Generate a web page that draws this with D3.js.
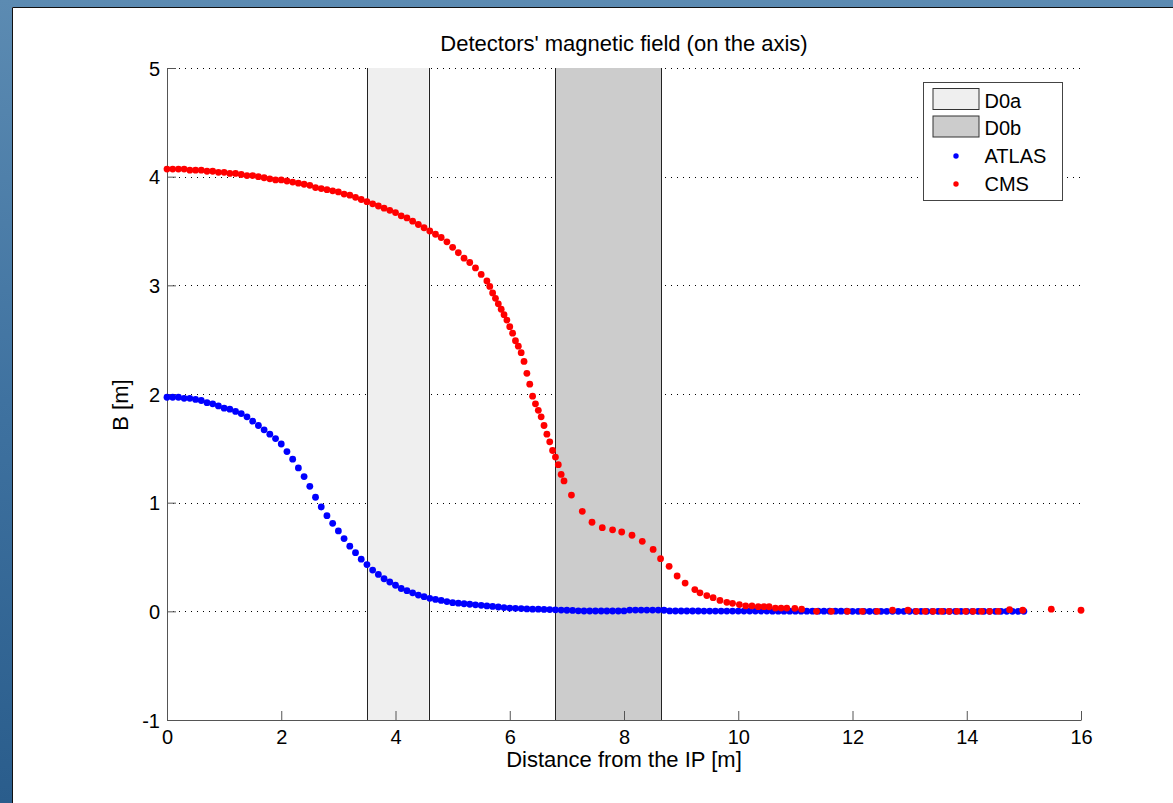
<!DOCTYPE html>
<html lang="en">
<head>
<meta charset="UTF-8">
<title>Detectors' magnetic field</title>
<script src="https://cdn.jsdelivr.net/npm/d3@7"></script>
<style>
    body { margin: 0; background: linear-gradient(180deg, #5c8bb2 0%, #3f72a0 50%, #2a5d8c 100%); }
    svg { display: block; }
    text { font-family: "Liberation Sans", Arial, Helvetica, sans-serif; fill: #000; }
</style>
</head>
<body>
<svg width="1173" height="803"></svg>
<script>
// field on the axis, [distance from IP (m), B]
var atlas = [
    [0.0,1.97],[0.1,1.97],[0.2,1.97],[0.3,1.96],[0.4,1.96],[0.5,1.95],[0.6,1.94],[0.7,1.92],[0.8,1.91],[0.9,1.89],
    [1.0,1.87],[1.1,1.86],[1.2,1.84],[1.3,1.82],[1.4,1.79],[1.5,1.75],[1.6,1.71],[1.7,1.67],[1.8,1.63],[1.9,1.59],
    [2.0,1.54],[2.1,1.47],[2.2,1.40],[2.3,1.32],[2.4,1.24],[2.5,1.15],[2.6,1.05],[2.7,0.96],[2.8,0.88],[2.9,0.81],
    [3.0,0.74],[3.1,0.67],[3.2,0.60],[3.3,0.54],[3.4,0.48],[3.5,0.43],[3.6,0.38],[3.7,0.34],[3.8,0.30],[3.9,0.27],
    [4.0,0.24],[4.1,0.21],[4.2,0.19],[4.3,0.17],[4.4,0.15],[4.5,0.135],[4.6,0.12],[4.7,0.11],[4.8,0.10],[4.9,0.09],
    [5.0,0.08],[5.1,0.075],[5.2,0.07],[5.3,0.065],[5.4,0.06],[5.5,0.055],[5.6,0.05],[5.7,0.045],[5.8,0.04],[5.9,0.035],
    [6.0,0.03],[6.1,0.028],[6.2,0.025],[6.3,0.022],[6.4,0.02],[6.5,0.02],[6.6,0.018],[6.7,0.016],[6.8,0.014],[6.9,0.012],
    [7.0,0.01],[7.1,0.008],[7.2,0.005],[7.3,0.003],[7.4,0.003],[7.5,0.003],[7.6,0.003],[7.7,0.003],[7.8,0.003],[7.9,0.003],
    [8.0,0.004],[8.1,0.012],[8.2,0.012],[8.3,0.012],[8.4,0.012],[8.5,0.012],[8.6,0.012],[8.7,0.01],[8.8,0.004],[8.9,0.003],
    [9.0,0.003],[9.1,0.003],[9.2,0.003],[9.3,0.003],[9.4,0.002],[9.5,0.002],[9.6,0.002],[9.7,0.002],[9.8,0.002],[9.9,0.002],
    [10.0,0.002],[10.1,0.002],[10.2,0.002],[10.3,0.002],[10.4,0.002],[10.5,0.002],[10.6,0.001],[10.7,0.001],[10.8,0.001],[10.9,0.001],
    [11.0,0.001],[11.1,0.001],[11.2,0.001],[11.3,0.001],[11.4,0.001],[11.5,0.001],[11.6,0.001],[11.7,0.001],[11.8,0.001],[11.9,0.001],
    [12.0,0],[12.1,0],[12.2,0],[12.3,0],[12.4,0],[12.5,0],[12.6,0],[12.7,0],[12.8,0],[12.9,0],
    [13.0,0],[13.1,0],[13.2,0],[13.3,0],[13.4,0],[13.5,0],[13.6,0],[13.7,0],[13.8,0],[13.9,0],
    [14.0,0],[14.1,0],[14.2,0],[14.3,0],[14.4,0],[14.5,0],[14.6,0],[14.7,0],[14.8,0],[14.9,0],[15.0,0]
];

var cms = [
    [0.0,4.07],[0.1,4.07],[0.2,4.07],[0.3,4.07],[0.4,4.06],[0.5,4.06],[0.6,4.06],[0.7,4.05],[0.8,4.05],[0.9,4.04],
    [1.0,4.04],[1.1,4.03],[1.2,4.03],[1.3,4.02],[1.4,4.01],[1.5,4.01],[1.6,4.00],[1.7,3.99],[1.8,3.98],[1.9,3.97],
    [2.0,3.97],[2.1,3.96],[2.2,3.95],[2.3,3.94],[2.4,3.93],[2.5,3.92],[2.6,3.90],[2.7,3.89],[2.8,3.88],[2.9,3.87],
    [3.0,3.86],[3.1,3.84],[3.2,3.83],[3.3,3.81],[3.4,3.79],[3.5,3.77],[3.6,3.75],[3.7,3.73],[3.8,3.71],[3.9,3.69],
    [4.0,3.67],[4.1,3.64],[4.2,3.62],[4.3,3.59],[4.4,3.56],[4.5,3.53],[4.6,3.50],[4.7,3.47],[4.8,3.44],[4.9,3.40],
    [5.0,3.35],[5.1,3.30],[5.2,3.25],[5.3,3.21],[5.4,3.16],[5.5,3.10],[5.6,3.04],
    [5.65,2.99],[5.70,2.93],[5.75,2.88],[5.80,2.83],[5.85,2.78],[5.90,2.73],[5.95,2.68],[6.00,2.62],[6.05,2.56],
    [6.10,2.49],[6.15,2.44],[6.20,2.38],[6.25,2.30],[6.30,2.19],[6.35,2.09],[6.40,1.98],[6.45,1.91],[6.50,1.85],
    [6.55,1.79],[6.60,1.71],[6.65,1.63],[6.70,1.56],[6.75,1.48],[6.80,1.42],[6.85,1.35],[6.90,1.26],[6.95,1.20],
    [7.08,1.07],[7.27,0.92],[7.44,0.82],[7.62,0.77],[7.80,0.75],[7.96,0.73],[8.14,0.70],[8.32,0.644],[8.51,0.57],
    [8.64,0.485],[8.79,0.414],[8.93,0.325],[9.07,0.26],[9.24,0.20],[9.33,0.17],[9.45,0.145],[9.56,0.126],[9.68,0.10],
    [9.80,0.083],[9.90,0.074],[10.02,0.062],[10.13,0.05],[10.24,0.05],[10.35,0.043],[10.45,0.043],[10.54,0.042],
    [10.65,0.03],[10.75,0.03],[10.85,0.03],[10.99,0.028],[11.11,0.02],[11.37,0],[11.63,0],[11.91,0],[12.17,0],
    [12.43,0],[12.70,0.01],[12.97,0.01],[13.12,0],[13.27,0],[13.41,0],[13.56,0],[13.69,0],[13.83,0],[13.98,0],
    [14.11,0],[14.26,0],[14.40,0],[14.55,0],[14.75,0.015],[14.98,0.01],[15.48,0.02],[16.0,0.01]
];

// detector regions (from, to) in m
var bands = [
    {name: "D0a", from: 3.5, to: 4.58, fill: "#efefef"},
    {name: "D0b", from: 6.8, to: 8.65, fill: "#cccccc"}
];
var series = [
    {name: "ATLAS", data: atlas, color: "#0000ff"},
    {name: "CMS", data: cms, color: "#ff0000"}
];
var xTicks = [0, 2, 4, 6, 8, 10, 12, 14, 16];
var yTicks = [-1, 0, 1, 2, 3, 4, 5];
var gridTicks = [0, 1, 2, 3, 4, 5];

var svg = d3.select("svg");

// white figure area
svg.append("rect")
    .attr("x", 12).attr("y", 7)
    .attr("width", 1161).attr("height", 796)
    .attr("fill", "#fff");
svg.append("path")
    .attr("d", "M12.5,803V7.5H1173")
    .attr("fill", "none")
    .attr("stroke", "#111");

var margin = {left: 167, top: 68, right: 1081, bottom: 720};
var x = d3.scaleLinear().domain([0, 16]).range([margin.left, margin.right]);
var y = d3.scaleLinear().domain([-1, 5]).range([margin.bottom, margin.top]);

// dotted grid
svg.append("g")
    .selectAll("line")
    .data(gridTicks)
    .enter()
    .append("line")
    .attr("x1", margin.left)
    .attr("x2", margin.right)
    .attr("y1", function(d) { return Math.round(y(d)) + 0.5; })
    .attr("y2", function(d) { return Math.round(y(d)) + 0.5; })
    .attr("stroke", "#000")
    .attr("stroke-dasharray", "1,5");

// detector regions, edges only on the sides
var bg = svg.append("g");
bg.selectAll("rect")
    .data(bands)
    .enter()
    .append("rect")
    .attr("x", function(d) { return x(d.from); })
    .attr("y", y(5))
    .attr("width", function(d) { return x(d.to) - x(d.from); })
    .attr("height", y(-1) - y(5))
    .attr("fill", function(d) { return d.fill; });

var edges = [];
bands.forEach(function(d) { edges.push(d.from, d.to); });
bg.selectAll("line")
    .data(edges)
    .enter()
    .append("line")
    .attr("x1", function(d) { return Math.round(x(d)) + 0.5; })
    .attr("x2", function(d) { return Math.round(x(d)) + 0.5; })
    .attr("y1", y(5))
    .attr("y2", y(-1))
    .attr("stroke", "#222");

// axes
var fmt = function(d) { return String(d); };
var xAxis = d3.axisBottom(x).tickValues(xTicks).tickFormat(fmt).tickSizeInner(-9).tickSizeOuter(0).tickPadding(10);
var yAxis = d3.axisLeft(y).tickValues(yTicks).tickFormat(fmt).tickSizeInner(-9).tickSizeOuter(0).tickPadding(7);

var gx = svg.append("g")
    .attr("transform", "translate(0," + margin.bottom + ")")
    .call(xAxis);
var gy = svg.append("g")
    .attr("transform", "translate(" + margin.left + ",0)")
    .call(yAxis);

[gx, gy].forEach(function(g) {
    g.selectAll(".domain").attr("stroke", "#555");
    g.selectAll(".tick line").attr("stroke", "#555");
    g.selectAll("text")
        .attr("font-size", 20)
        .attr("font-family", "'Liberation Sans', Arial, sans-serif")
        .attr("fill", "#000");
});
gx.selectAll("text").attr("dy", "0.72em");
gy.selectAll("text").attr("dy", "0.35em");

// points
series.forEach(function(s) {
    svg.append("g")
        .selectAll("circle")
        .data(s.data)
        .enter()
        .append("circle")
        .attr("cx", function(d) { return x(d[0]); })
        .attr("cy", function(d) { return y(d[1]); })
        .attr("r", 3.4)
        .attr("fill", s.color);
});

// titles
svg.append("text")
    .attr("x", (margin.left + margin.right) / 2)
    .attr("y", 51)
    .attr("text-anchor", "middle")
    .attr("font-size", 22)
    .text("Detectors' magnetic field (on the axis)");

svg.append("text")
    .attr("x", (margin.left + margin.right) / 2)
    .attr("y", 767)
    .attr("text-anchor", "middle")
    .attr("font-size", 22)
    .text("Distance from the IP [m]");

svg.append("text")
    .attr("transform", "translate(128," + 405 + ") rotate(-90)")
    .attr("text-anchor", "middle")
    .attr("font-size", 22)
    .text("B [m]");

// legend
var lg = svg.append("g").attr("transform", "translate(923.5,82.5)");
lg.append("rect")
    .attr("width", 139)
    .attr("height", 118)
    .attr("fill", "#fff")
    .attr("stroke", "#444");

bands.forEach(function(d, i) {
    lg.append("rect")
        .attr("x", 9.5)
        .attr("y", 6 + i * 27.5)
        .attr("width", 46)
        .attr("height", 21)
        .attr("fill", d.fill)
        .attr("stroke", "#333");
    lg.append("text")
        .attr("x", 61)
        .attr("y", 18 + i * 27.5)
        .attr("dy", "0.35em")
        .attr("font-size", 20)
        .text(d.name);
});

series.forEach(function(s, i) {
    var cy = 73.5 + i * 28;
    lg.append("circle")
        .attr("cx", 32.5)
        .attr("cy", cy)
        .attr("r", 2.7)
        .attr("fill", s.color);
    lg.append("text")
        .attr("x", 61)
        .attr("y", cy)
        .attr("dy", "0.35em")
        .attr("font-size", 20)
        .text(s.name);
});
</script>
</body>
</html>
